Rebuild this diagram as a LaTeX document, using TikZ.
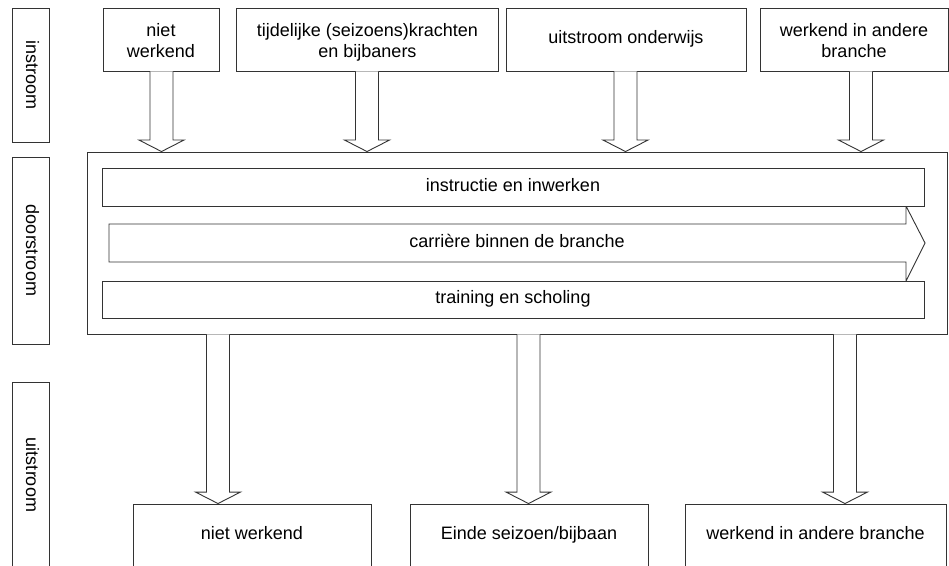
\documentclass[tikz,border=0pt]{standalone}
\usepackage{fontspec}
\setmainfont{Liberation Sans}
\usetikzlibrary{calc}
\begin{document}
\begin{tikzpicture}[x=1pt,y=1pt,line join=miter,
  box/.style={draw=black!80, line width=0.9pt, fill=white, inner sep=0pt, align=center,
              font=\fontsize{18}{21}\selectfont},
  one/.style={text height=13pt, text depth=4pt},
  plain/.style={inner sep=0pt, font=\fontsize{18}{21}\selectfont, text height=13pt, text depth=4pt},
  blk/.style={draw=black!80, line width=0.9pt, fill=white}]
\useasboundingbox (0,0) rectangle (949,565);
\newcommand\dnarrow[3]{%
  \draw[blk] let \p1=(#2), \p2=(#3) in
   (#1pt-11.5pt,\y1) -- (#1pt-11.5pt,\y2+11.5pt) -- (#1pt-22.5pt,\y2+11.5pt) -- (#1pt,\y2)
   -- (#1pt+22.5pt,\y2+11.5pt) -- (#1pt+11.5pt,\y2+11.5pt) -- (#1pt+11.5pt,\y1);}
\newcommand\twolines[2]{\rule{0pt}{20pt}#1\\#2\rule[-4pt]{0pt}{4pt}}

% phase labels
\node[box, one, rotate=-90, minimum width=134, minimum height=37] (lin) at (30.5,490) {instroom};
\node[box, one, rotate=-90, minimum width=187, minimum height=37] (ldoor) at (30.5,314.5) {doorstroom};
\node[box, one, rotate=-90, minimum width=186, minimum height=37] (luit) at (30.5,90) {uitstroom};

% top boxes
\node[box, minimum width=116, minimum height=63] (t1) at (161,525.5) {\twolines{niet}{werkend}};
\node[box, minimum width=262, minimum height=63] (t2) at (367.5,525.5) {\twolines{tijdelijke (seizoens)krachten}{en bijbaners}};
\node[box, one, minimum width=240, minimum height=63] (t3) at (626,525.5) {uitstroom onderwijs};
\node[box, minimum width=188, minimum height=63] (t4) at (854,525.5) {\twolines{werkend in andere}{branche}};

% main box
\node[box, minimum width=860, minimum height=182] (main) at (517,322) {};
\draw[blk] (109,341) -- (906,341) -- (906,359) -- (925,322) -- (906,284) -- (906,303) -- (109,303) -- cycle;
\node[plain] (car) at (517,322) {carrière binnen de branche};
\node[box, one, minimum width=822, minimum height=38] (bar1) at (513,378) {instructie en inwerken};
\node[box, one, minimum width=822, minimum height=37] (bar3) at (513,265.5) {training en scholing};

% bottom boxes
\node[box, one, minimum width=238, minimum height=62] (b1) at (252,30) {niet werkend};
\node[box, one, minimum width=238, minimum height=62] (b2) at (529,30) {Einde seizoen/bijbaan};
\node[box, one, minimum width=261, minimum height=62] (b3) at (815.5,30) {werkend in andere branche};

% block arrows
\dnarrow{161.5}{t1.south}{main.north}
\dnarrow{367}{t2.south}{main.north}
\dnarrow{625.5}{t3.south}{main.north}
\dnarrow{861}{t4.south}{main.north}
\dnarrow{218}{main.south}{b1.north}
\dnarrow{528.5}{main.south}{b2.north}
\dnarrow{845}{main.south}{b3.north}
\end{tikzpicture}
\end{document}
